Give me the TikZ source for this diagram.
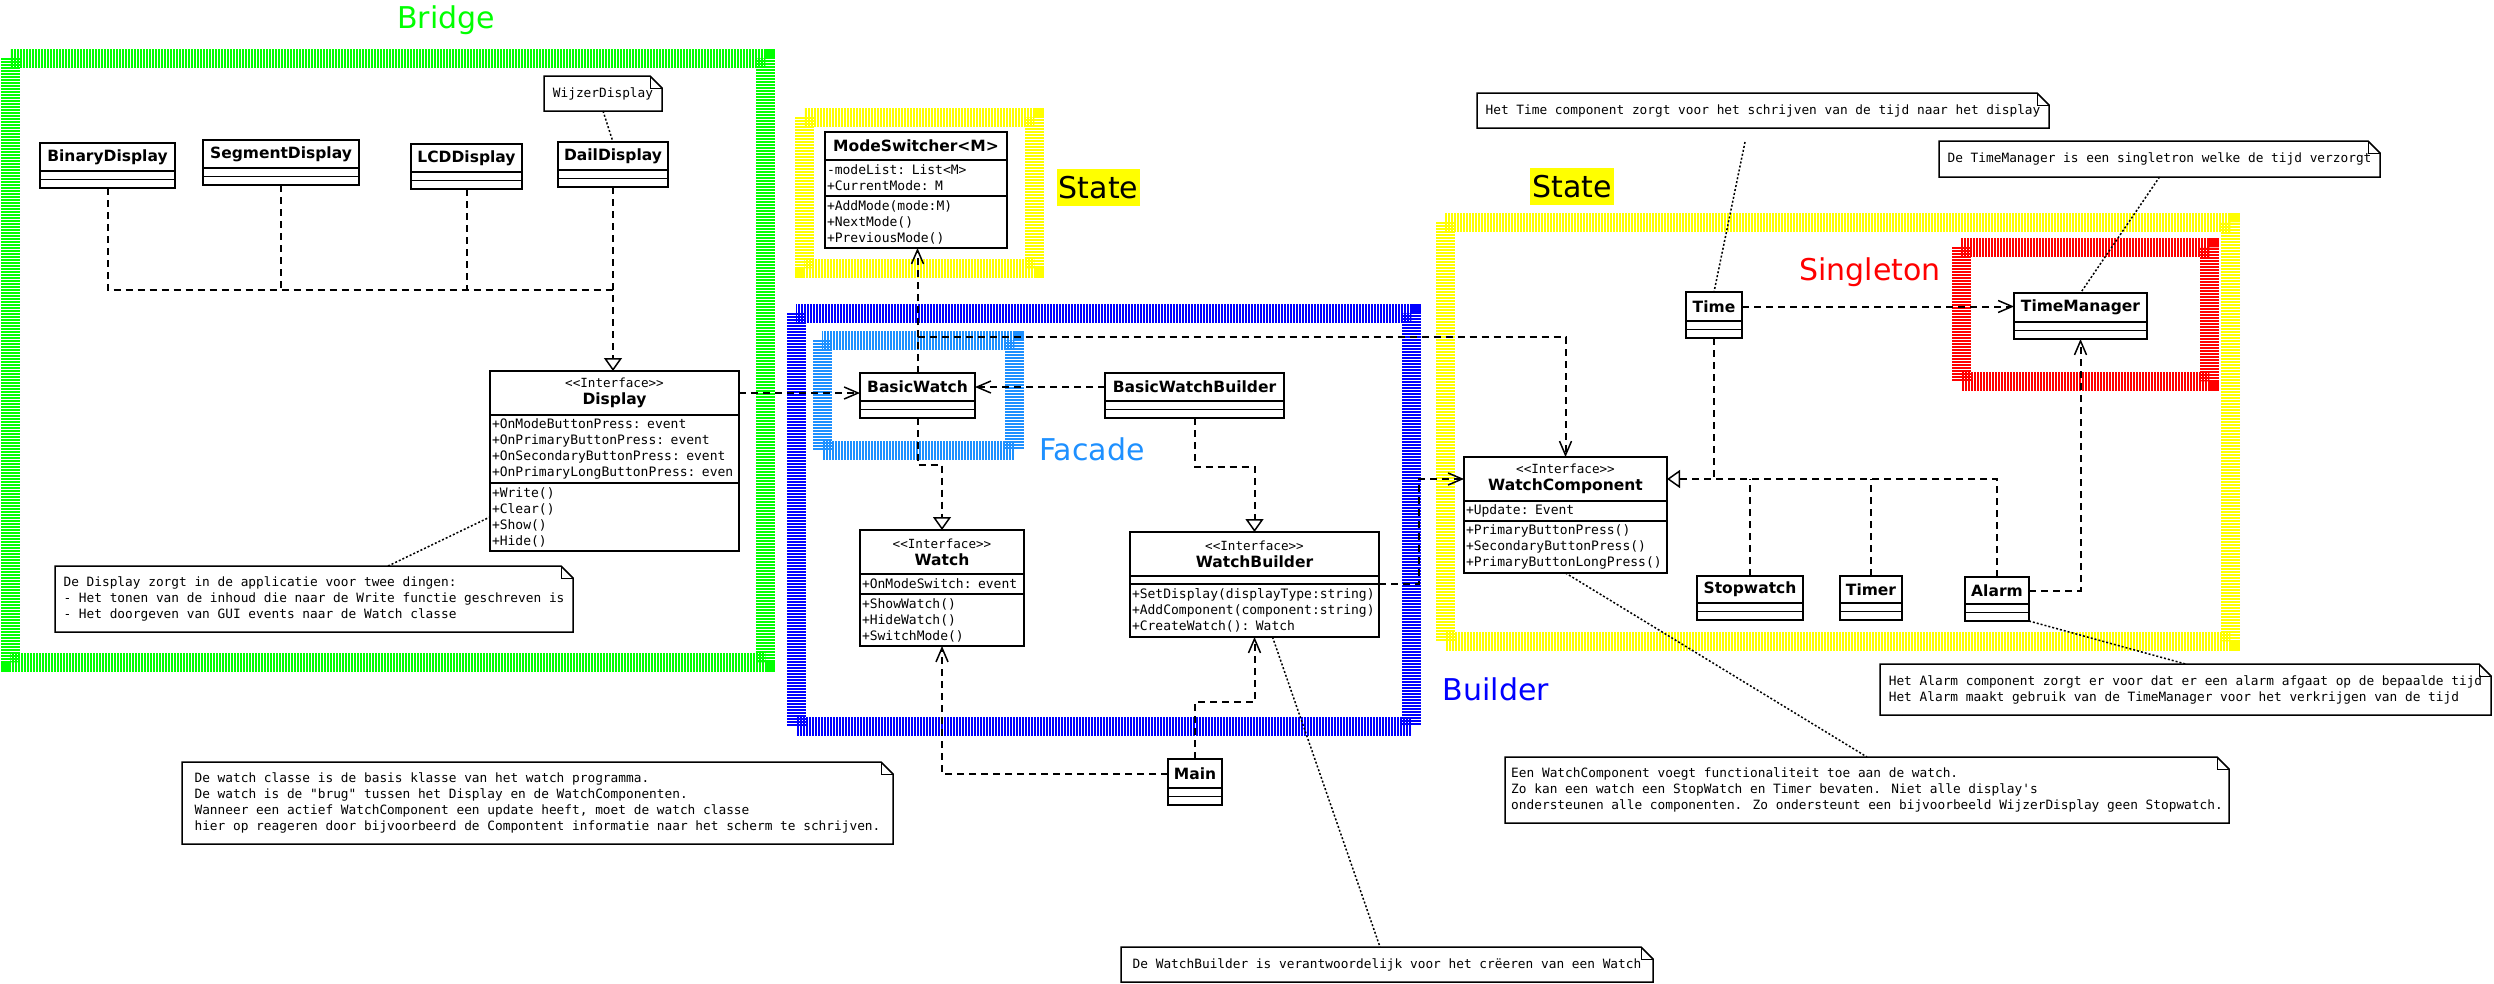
\documentclass[tikz,border=0pt]{standalone}
\usepackage{fontspec}
\setmainfont{DejaVu Sans}
\newfontfamily\umlmono{DejaVu Sans Mono}
\usetikzlibrary{arrows.meta}

% Colours of the pattern frames
\definecolor{bridgegreen}{RGB}{0,255,0}
\definecolor{stateyellow}{RGB}{255,255,0}
\definecolor{builderblue}{RGB}{0,0,255}
\definecolor{facadeblue}{RGB}{30,144,255}
\definecolor{singletonred}{RGB}{255,0,0}

\tikzset{
  classhead/.style={draw, line width=1.5pt, fill=white, outer sep=0pt, inner sep=2pt,
    anchor=north west, align=center, font=\fontsize{15.5}{17}\selectfont\bfseries},
  classbody/.style={draw, line width=1.5pt, fill=white, outer sep=0pt, inner xsep=2pt,
    inner ysep=1pt, anchor=north west, align=left, font=\umlmono\fontsize{13}{16}\selectfont},
  classempty/.style={draw, line width=1.5pt, fill=white, outer sep=0pt, inner sep=0pt,
    anchor=north west, minimum height=8.5pt},
  notebox/.style={outer sep=0pt, inner xsep=6pt, inner ysep=2pt, anchor=north west,
    align=left, font=\umlmono\fontsize{12.8}{16}\selectfont},
  noteline/.style={line width=1.5pt},
  noteref/.style={line width=1.5pt, dash pattern=on 2pt off 2pt},
  depline/.style={line width=2pt, dash pattern=on 7pt off 5pt},
  depend/.style={depline, -{Straight Barb[length=14pt, width=12pt, line width=1.5pt]}},
  realize/.style={depline, -{Triangle[open, length=13pt, width=18pt, line width=1.5pt]}},
  hatchband/.style={line width=19pt, dash pattern=on 2pt off 1pt},
  patternlabel/.style={font=\fontsize{30}{36}\selectfont, anchor=base, inner sep=0pt},
  statelabel/.style={fill=stateyellow, font=\fontsize{30}{36}\selectfont,
    text height=27pt, text depth=6pt, inner sep=2pt},
}

% Outline of a note with a folded corner
\newcommand{\drawnote}[1]{%
  \draw[noteline] (#1.north west) -- ([xshift=-12pt]#1.north east)
    -- ([yshift=-12pt]#1.north east) -- (#1.south east) -- (#1.south west) -- cycle;
  \draw[noteline, line width=1pt] ([xshift=-12pt]#1.north east)
    |- ([yshift=-12pt]#1.north east);}

\begin{document}
\begin{tikzpicture}[x=1pt, y=-1pt]

    % Fix the size of the picture
    \useasboundingbox (0,0) rectangle (2494,983);

    % Draw the hatched frames round the patterns
    \draw[hatchband, bridgegreen] (10,58) rectangle (765,662);
    \draw[hatchband, stateyellow] (804,117) rectangle (1034,268);
    \draw[hatchband, builderblue] (796,313) rectangle (1411,726);
    \draw[hatchband, facadeblue] (822,340) rectangle (1014,450);
    \draw[hatchband, stateyellow] (1445,222) rectangle (2230,641);
    \draw[hatchband, singletonred] (1961,247) rectangle (2209,381);

    % Add the names of the patterns
    \node[patternlabel, bridgegreen] (BridgeLabel) at (446,28) {Bridge};
    \node[statelabel] (StateLabelLeft) at (1098.5,187.5) {State};
    \node[patternlabel, facadeblue] (FacadeLabel) at (1092,460) {Facade};
    \node[patternlabel, builderblue] (BuilderLabel) at (1496,700) {Builder};
    \node[statelabel] (StateLabelRight) at (1572,186.5) {State};
    \node[patternlabel, singletonred] (SingletonLabel) at (1870,280) {Singleton};

    % The displays of the bridge
    \node[classhead, minimum width=135pt, minimum height=28pt] (BinaryDisplay) at (40,143) {BinaryDisplay};
    \node[classempty, minimum width=135pt] (BinaryDisplay-a) at (BinaryDisplay.south west) {};
    \node[classempty, minimum width=135pt] (BinaryDisplay-m) at (BinaryDisplay-a.south west) {};

    \node[classhead, minimum width=156pt, minimum height=28pt] (SegmentDisplay) at (203,140) {SegmentDisplay};
    \node[classempty, minimum width=156pt] (SegmentDisplay-a) at (SegmentDisplay.south west) {};
    \node[classempty, minimum width=156pt] (SegmentDisplay-m) at (SegmentDisplay-a.south west) {};

    \node[classhead, minimum width=111pt, minimum height=28pt] (LCDDisplay) at (411,144) {LCDDisplay};
    \node[classempty, minimum width=111pt] (LCDDisplay-a) at (LCDDisplay.south west) {};
    \node[classempty, minimum width=111pt] (LCDDisplay-m) at (LCDDisplay-a.south west) {};

    \node[classhead, minimum width=110pt, minimum height=28pt] (DailDisplay) at (558,142) {DailDisplay};
    \node[classempty, minimum width=110pt] (DailDisplay-a) at (DailDisplay.south west) {};
    \node[classempty, minimum width=110pt] (DailDisplay-m) at (DailDisplay-a.south west) {};

    % The Display interface
    \node[classhead, minimum width=249pt, minimum height=44pt] (Display) at (490,371)
        {{\umlmono\mdseries\fontsize{12.6}{17}\selectfont <<Interface>>}\\Display};
    \node[classbody, text width=245pt, minimum height=68pt] (Display-a) at (Display.south west)
        {+OnModeButtonPress: event\\+OnPrimaryButtonPress: event\\+OnSecondaryButtonPress: event\\+OnPrimaryLongButtonPress: even};
    \node[classbody, text width=245pt, minimum height=68pt] (Display-m) at (Display-a.south west)
        {+Write()\\+Clear()\\+Show()\\+Hide()};

    % The mode switcher of the state pattern
    \node[classhead, minimum width=182pt, minimum height=28pt] (ModeSwitcher) at (825,132) {ModeSwitcher<M>};
    \node[classbody, text width=178pt, minimum height=36pt] (ModeSwitcher-a) at (ModeSwitcher.south west)
        {-modeList: List<M>\\+CurrentMode: M};
    \node[classbody, text width=178pt, minimum height=52pt] (ModeSwitcher-m) at (ModeSwitcher-a.south west)
        {+AddMode(mode:M)\\+NextMode()\\+PreviousMode()};

    % The facade and its builder
    \node[classhead, minimum width=115pt, minimum height=28pt] (BasicWatch) at (860,373) {BasicWatch};
    \node[classempty, minimum width=115pt] (BasicWatch-a) at (BasicWatch.south west) {};
    \node[classempty, minimum width=115pt] (BasicWatch-m) at (BasicWatch-a.south west) {};

    \node[classhead, minimum width=179pt, minimum height=28pt] (BasicWatchBuilder) at (1105,373) {BasicWatchBuilder};
    \node[classempty, minimum width=179pt] (BasicWatchBuilder-a) at (BasicWatchBuilder.south west) {};
    \node[classempty, minimum width=179pt] (BasicWatchBuilder-m) at (BasicWatchBuilder-a.south west) {};

    % The Watch and WatchBuilder interfaces
    \node[classhead, minimum width=164pt, minimum height=44pt] (Watch) at (860,530)
        {{\umlmono\mdseries\fontsize{12.6}{17}\selectfont <<Interface>>}\\Watch};
    \node[classbody, text width=160pt, minimum height=20pt] (Watch-a) at (Watch.south west)
        {+OnModeSwitch: event};
    \node[classbody, text width=160pt, minimum height=52pt] (Watch-m) at (Watch-a.south west)
        {+ShowWatch()\\+HideWatch()\\+SwitchMode()};

    \node[classhead, minimum width=249pt, minimum height=44pt] (WatchBuilder) at (1130,532)
        {{\umlmono\mdseries\fontsize{12.6}{17}\selectfont <<Interface>>}\\WatchBuilder};
    \node[classempty, minimum width=249pt, minimum height=8pt] (WatchBuilder-a) at (WatchBuilder.south west) {};
    \node[classbody, text width=245pt, minimum height=53pt] (WatchBuilder-m) at (WatchBuilder-a.south west)
        {+SetDisplay(displayType:string)\\+AddComponent(component:string)\\+CreateWatch(): Watch};

    % The program entry
    \node[classhead, minimum width=54pt, minimum height=29pt] (Main) at (1168,759) {Main};
    \node[classempty, minimum width=54pt] (Main-a) at (Main.south west) {};
    \node[classempty, minimum width=54pt] (Main-m) at (Main-a.south west) {};

    % The components and the singleton
    \node[classhead, minimum width=56pt, minimum height=29pt] (Time) at (1686,292) {Time};
    \node[classempty, minimum width=56pt] (Time-a) at (Time.south west) {};
    \node[classempty, minimum width=56pt] (Time-m) at (Time-a.south west) {};

    \node[classhead, minimum width=133pt, minimum height=29pt] (TimeManager) at (2014,293) {TimeManager};
    \node[classempty, minimum width=133pt] (TimeManager-a) at (TimeManager.south west) {};
    \node[classempty, minimum width=133pt] (TimeManager-m) at (TimeManager-a.south west) {};

    \node[classhead, minimum width=203pt, minimum height=44pt] (WatchComponent) at (1464,457)
        {{\umlmono\mdseries\fontsize{12.6}{17}\selectfont <<Interface>>}\\WatchComponent};
    \node[classbody, text width=199pt, minimum height=20pt] (WatchComponent-a) at (WatchComponent.south west)
        {+Update: Event};
    \node[classbody, text width=199pt, minimum height=52pt] (WatchComponent-m) at (WatchComponent-a.south west)
        {+PrimaryButtonPress()\\+SecondaryButtonPress()\\+PrimaryButtonLongPress()};

    \node[classhead, minimum width=106pt, minimum height=27pt] (Stopwatch) at (1697,576) {Stopwatch};
    \node[classempty, minimum width=106pt] (Stopwatch-a) at (Stopwatch.south west) {};
    \node[classempty, minimum width=106pt] (Stopwatch-m) at (Stopwatch-a.south west) {};

    \node[classhead, minimum width=62pt, minimum height=27pt] (Timer) at (1840,576) {Timer};
    \node[classempty, minimum width=62pt] (Timer-a) at (Timer.south west) {};
    \node[classempty, minimum width=62pt] (Timer-m) at (Timer-a.south west) {};

    \node[classhead, minimum width=64pt, minimum height=27pt] (Alarm) at (1965,577) {Alarm};
    \node[classempty, minimum width=64pt] (Alarm-a) at (Alarm.south west) {};
    \node[classempty, minimum width=64pt] (Alarm-m) at (Alarm-a.south west) {};

    % The notes
    \node[notebox, minimum width=118pt, minimum height=35pt] (WijzerNote) at (544,76) {WijzerDisplay};
    \node[notebox, minimum width=518pt, minimum height=66pt] (DisplayNote) at (55,566)
        {De Display zorgt in de applicatie voor twee dingen:\\- Het tonen van de inhoud die naar de Write functie geschreven is\\- Het doorgeven van GUI events naar de Watch classe};
    \node[notebox, minimum width=711pt, minimum height=82pt] (WatchNote) at (182,762)
        {De watch classe is de basis klasse van het watch programma.\\De watch is de "brug" tussen het Display en de WatchComponenten.\\Wanneer een actief WatchComponent een update heeft, moet de watch classe\\hier op reageren door bijvoorbeerd de Compontent informatie naar het scherm te schrijven.};
    \node[notebox, minimum width=532pt, minimum height=35pt] (WBNote) at (1121,947)
        {De WatchBuilder is verantwoordelijk voor het crëeren van een Watch};
    \node[notebox, minimum width=724pt, minimum height=66pt] (WCNote) at (1505,757)
        {Een WatchComponent voegt functionaliteit toe aan de watch.\\Zo kan een watch een StopWatch en Timer bevaten. Niet alle display's\\ondersteunen alle componenten. Zo ondersteunt een bijvoorbeeld WijzerDisplay geen Stopwatch.};
    \node[notebox, minimum width=572pt, minimum height=35pt] (TimeNote) at (1477,93)
        {Het Time component zorgt voor het schrijven van de tijd naar het display};
    \node[notebox, minimum width=441pt, minimum height=36pt] (TMNote) at (1939,141)
        {De TimeManager is een singletron welke de tijd verzorgt};
    \node[notebox, minimum width=611pt, minimum height=51pt] (AlarmNote) at (1880,664)
        {Het Alarm component zorgt er voor dat er een alarm afgaat op de bepaalde tijd\\Het Alarm maakt gebruik van de TimeManager voor het verkrijgen van de tijd};

    % Draw the outlines of the notes
    \drawnote{WijzerNote}
    \drawnote{DisplayNote}
    \drawnote{WatchNote}
    \drawnote{WBNote}
    \drawnote{WCNote}
    \drawnote{TimeNote}
    \drawnote{TMNote}
    \drawnote{AlarmNote}

    % Heights of the bends in the connectors
    \coordinate (DisplayBus) at (0,290);
    \coordinate (FacadeBus) at (0,337);
    \coordinate (WatchBend) at (0,465);
    \coordinate (BuilderBend) at (0,467);
    \coordinate (MainBend) at (0,702);
    \coordinate (ComponentBend) at (1419,0);

    % The displays realize the Display interface
    \draw[depline] (BinaryDisplay-m.south) |- (DailDisplay-m.south |- DisplayBus);
    \draw[depline] (SegmentDisplay-m.south) -- (SegmentDisplay-m.south |- DisplayBus);
    \draw[depline] (LCDDisplay-m.south) -- (LCDDisplay-m.south |- DisplayBus);
    \draw[realize] (DailDisplay-m.south) -- (DailDisplay-m.south |- Display.north);

    % Connectors round the facade
    \draw[depend] (Display.east) -- (Display.east -| BasicWatch.west);
    \draw[depend] (BasicWatchBuilder.west) -- (BasicWatch.east);
    \draw[depend] (BasicWatch.north) -- (BasicWatch.north |- ModeSwitcher-m.south);
    \draw[depend] (BasicWatch.north) |- (WatchComponent.north |- FacadeBus) -- (WatchComponent.north);
    \draw[realize] (BasicWatch-m.south) |- (Watch.north |- WatchBend) -- (Watch.north);
    \draw[realize] (BasicWatchBuilder-m.south) |- (WatchBuilder.north |- BuilderBend) -- (WatchBuilder.north);
    \draw[depend] (Main.west) -| (Watch-m.south);
    \draw[depend] (Main.north) |- (WatchBuilder-m.south |- MainBend) -- (WatchBuilder-m.south);
    \draw[depend] (WatchBuilder-a.south east) -| (ComponentBend |- WatchComponent.west) -- (WatchComponent.west);

    % Connectors of the components
    \draw[depend] (Time.east) -- (Time.east -| TimeManager.west);
    \draw[realize] (Time-m.south) |- (WatchComponent.east);
    \draw[depline] (Stopwatch.north) -- (Stopwatch.north |- WatchComponent.east);
    \draw[depline] (Timer.north) -- (Timer.north |- WatchComponent.east);
    \draw[depline] (Alarm.north) |- (Time-m.south |- WatchComponent.east);
    \draw[depend] (Alarm.east) -| (TimeManager-m.south);

    % Dotted lines from the notes
    \draw[noteref] (WijzerNote.south) -- (DailDisplay.north);
    \draw[noteref] ([xshift=74pt]DisplayNote.north) -- (Display-m.west);
    \draw[noteref] ([xshift=-18pt,yshift=-14pt]TimeNote.south) -- (Time.north);
    \draw[noteref] (TMNote.south) -- (TimeManager.north);
    \draw[noteref] (Alarm-m.south east) -- (AlarmNote.north);
    \draw[noteref] (WatchComponent-m.south) -- (WCNote.north);
    \draw[noteref] ([xshift=18pt]WatchBuilder-m.south) -- ([xshift=-7pt]WBNote.north);

\end{tikzpicture}
\end{document}
